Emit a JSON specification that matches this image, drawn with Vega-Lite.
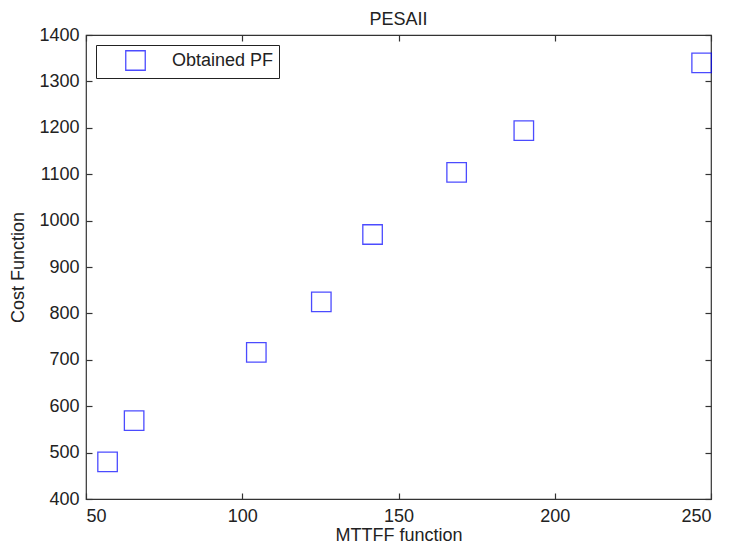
{
  "$schema": "https://vega.github.io/schema/vega-lite/v6.json",
  "width": 625,
  "height": 464,
  "autosize": {"type": "none"},
  "padding": {"left": 86, "top": 35, "right": 18, "bottom": 49},
  "background": "white",
  "title": {"text": "PESAII", "fontSize": 18, "font": "Liberation Sans", "fontWeight": "normal", "color": "#222222", "offset": -3},
  "config": {
    "font": "Liberation Sans",
    "view": {"stroke": "#333333", "strokeWidth": 1.2},
    "axis": {
      "grid": false,
      "domain": false,
      "tickSize": -6,
      "tickColor": "#333333",
      "tickWidth": 1.2,
      "labelFont": "Liberation Sans",
      "labelFontSize": 18,
      "labelColor": "#222222",
      "titleFont": "Liberation Sans",
      "titleFontSize": 18,
      "titleFontWeight": "normal",
      "titleColor": "#222222"
    }
  },
  "data": {
    "values": [
      {"mttff": 56.9, "cost": 480, "series": "Obtained PF"},
      {"mttff": 65.4, "cost": 569, "series": "Obtained PF"},
      {"mttff": 104.5, "cost": 716, "series": "Obtained PF"},
      {"mttff": 125.3, "cost": 825, "series": "Obtained PF"},
      {"mttff": 141.7, "cost": 970, "series": "Obtained PF"},
      {"mttff": 168.6, "cost": 1104, "series": "Obtained PF"},
      {"mttff": 190.1, "cost": 1194, "series": "Obtained PF"},
      {"mttff": 247.0, "cost": 1340, "series": "Obtained PF"}
    ]
  },
  "layer": [
    {
      "mark": {"type": "point", "shape": "square", "filled": false, "size": 380, "strokeWidth": 1.3},
      "encoding": {
        "x": {
          "field": "mttff", "type": "quantitative",
          "scale": {"domain": [50, 250], "nice": false, "zero": false},
          "axis": {"orient": "bottom", "title": "MTTFF function", "format": "d", "values": [50, 100, 150, 200, 250], "labelPadding": 14, "titlePadding": 1}
        },
        "y": {
          "field": "cost", "type": "quantitative",
          "scale": {"domain": [400, 1400], "nice": false, "zero": false},
          "axis": {"orient": "left", "title": "Cost Function", "format": "d", "values": [400, 500, 600, 700, 800, 900, 1000, 1100, 1200, 1300, 1400], "labelPadding": 13, "titlePadding": 11}
        },
        "color": {
          "field": "series", "type": "nominal",
          "scale": {"range": ["#0000ff"]},
          "legend": {
            "title": null,
            "orient": "none",
            "legendX": 10,
            "legendY": 10,
            "strokeColor": "#222222",
            "fillColor": "white",
            "padding": 5,
            "symbolOffset": 24,
            "symbolSize": 380,
            "symbolStrokeWidth": 1.3,
            "symbolType": "square",
            "labelOffset": 26,
            "labelFontSize": 18,
            "labelFont": "Liberation Sans",
            "labelColor": "#222222",
            "labelLimit": 300
          }
        }
      }
    },
    {
      "mark": {"type": "point", "opacity": 0},
      "encoding": {
        "x": {"field": "mttff", "type": "quantitative", "axis": {"orient": "top", "title": null, "labels": false, "values": [50, 100, 150, 200, 250]}},
        "y": {"field": "cost", "type": "quantitative", "axis": {"orient": "right", "title": null, "labels": false, "values": [400, 500, 600, 700, 800, 900, 1000, 1100, 1200, 1300, 1400]}}
      }
    }
  ],
  "resolve": {"axis": {"x": "independent", "y": "independent"}}
}
